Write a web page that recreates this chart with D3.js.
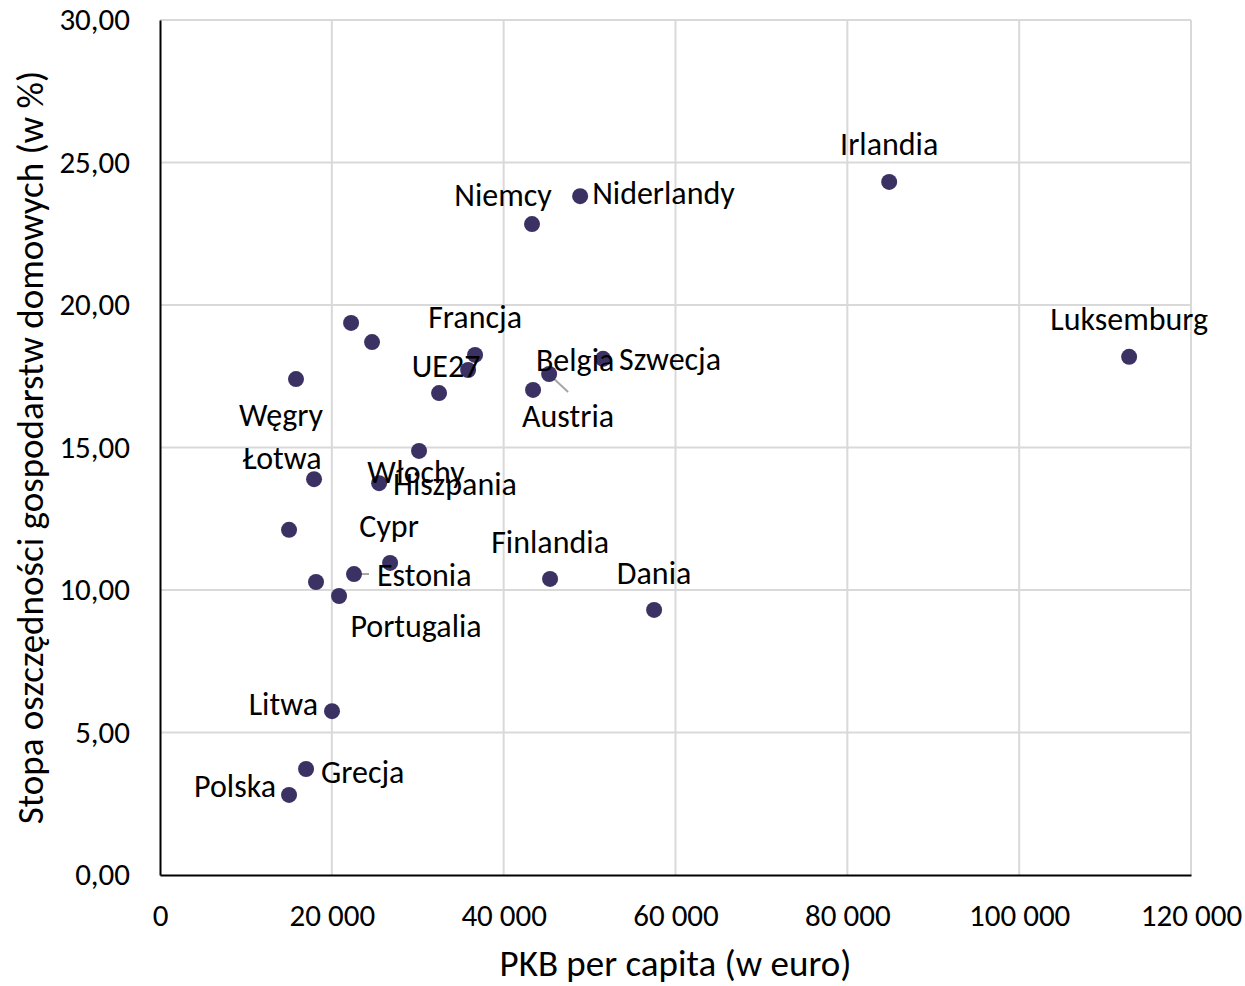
<!DOCTYPE html>
<html>
<head>
<meta charset="utf-8">
<script src="https://cdn.jsdelivr.net/npm/d3@7"></script>
<style>
  html, body { margin: 0; padding: 0; background: #fff; }
  svg text { font-family: Carlito, Calibri, Lato, sans-serif; fill: #000; }
</style>
</head>
<body>
<svg id="chart" width="1245" height="986"></svg>
<script>
// ---- data ----
const countries = ["Irlandia","Luksemburg","Niderlandy","Niemcy","Szwecja","Belgia","Austria","Francja","UE27","","","","Węgry","Włochy","Hiszpania","Łotwa","","Cypr","Estonia","","Portugalia","Finlandia","Dania","Litwa","Grecja","Polska"];
const gdpPerCapita = [84870,112800,48900,43300,51570,45290,43420,36670,35860,32480,22240,24680,15830,30150,25500,17930,15020,26780,22580,18160,20840,45400,57510,20020,17000,15020];
const savingRate = [24.32,18.18,23.82,22.84,18.11,17.58,17.02,18.25,17.72,16.91,19.37,18.70,17.40,14.88,13.75,13.89,12.11,10.95,10.56,10.28,9.79,10.39,9.30,5.75,3.72,2.81];
const xTicks = [0,20000,40000,60000,80000,100000,120000];
const yTicks = [0,5,10,15,20,25,30];
const xTitle = "PKB per capita (w euro)";
const yTitle = "Stopa oszczędności gospodarstw domowych (w %)";

// ---- label layout (offsets from point, px) ----
const labelOffsets = [
  [0,-37,"middle"],[0,-37,"middle"],[12,-3,"start"],[-29,-29,"middle"],[16,1,"start"],
  [26,-13,"middle"],[35,27,"middle"],[0,-37,"middle"],[-22,-3,"middle"],null,null,null,
  [-15,36,"middle"],[-3,22,"middle"],[14,1,"start"],[-32,-21,"middle"],null,[-1,-36,"middle"],
  [23,1,"start"],null,[77,31,"middle"],[0,-36,"middle"],[0,-36,"middle"],[-14,-7,"end"],
  [15,4,"start"],[-13,-8,"end"]
];
const leaders = { "Belgia": [[4,4],[19,18]], "Estonia": [[2,0],[15,0]] };

// ---- chart ----
const svg = d3.select("#chart");
const mLeft = 160, mRight = 1191, mTop = 20, mBottom = 875;
const fontFam = "Carlito, Calibri, Lato, sans-serif";
const x = d3.scaleLinear().domain([0,120000]).range([mLeft,mRight]);
const y = d3.scaleLinear().domain([0,30]).range([mBottom,mTop]);
const loc = d3.formatLocale({decimal: ",", thousands: "\u2009", grouping: [3], currency: ["",""]});
const fx = v => loc.format(",.0f")(v).replace(/\u2009/g, " ");
const fy = loc.format(".2f");

// gridlines
svg.append("g").selectAll("line").data(yTicks.filter(d => d > 0)).join("line")
  .attr("x1", mLeft).attr("x2", mRight).attr("y1", d => y(d)).attr("y2", d => y(d))
  .attr("stroke", "#d9d9d9").attr("stroke-width", 2);
svg.append("g").selectAll("line").data(xTicks.filter(d => d > 0)).join("line")
  .attr("y1", mTop).attr("y2", mBottom).attr("x1", d => x(d)).attr("x2", d => x(d))
  .attr("stroke", "#d9d9d9").attr("stroke-width", 2);

// axes
const xAxis = d3.axisBottom(x).tickValues(xTicks).tickFormat(fx).tickSize(0).tickPadding(29);
const gx = svg.append("g").attr("transform", `translate(0,${mBottom})`).call(xAxis);
gx.select(".domain").attr("stroke", "#000").attr("stroke-width", 2);
gx.selectAll("text").attr("font-size", 31).attr("font-family", fontFam).attr("fill", "#000");

const yAxis = d3.axisLeft(y).tickValues(yTicks).tickFormat(fy).tickSize(0).tickPadding(30);
const gy = svg.append("g").attr("transform", `translate(${mLeft},0)`).call(yAxis);
gy.select(".domain").attr("stroke", "#000").attr("stroke-width", 2);
gy.selectAll("text").attr("font-size", 31).attr("font-family", fontFam).attr("fill", "#000");

// titles
svg.append("text").attr("x", (mLeft+mRight)/2).attr("y", 963).attr("text-anchor", "middle")
  .attr("dominant-baseline", "central").attr("font-size", 37).text(xTitle);
svg.append("text").attr("transform", `translate(30,${(mTop+mBottom)/2}) rotate(-90)`)
  .attr("text-anchor", "middle").attr("dominant-baseline", "central").attr("font-size", 37).text(yTitle);

// leader lines
countries.forEach((c, i) => {
  if (leaders[c]) {
    const px = x(gdpPerCapita[i]), py = y(savingRate[i]);
    const [a, b] = leaders[c];
    svg.append("line").attr("x1", px + a[0]).attr("y1", py + a[1]).attr("x2", px + b[0]).attr("y2", py + b[1])
      .attr("stroke", "#a6a6a6").attr("stroke-width", 2);
  }
});

// points
const idx = d3.range(countries.length);
svg.append("g").selectAll("circle").data(idx).join("circle")
  .attr("cx", i => x(gdpPerCapita[i])).attr("cy", i => y(savingRate[i])).attr("r", 8)
  .attr("fill", "#3b3163");

// labels
svg.append("g").selectAll("text").data(idx.filter(i => countries[i] && labelOffsets[i])).join("text")
  .attr("x", i => x(gdpPerCapita[i]) + labelOffsets[i][0])
  .attr("y", i => y(savingRate[i]) + labelOffsets[i][1])
  .attr("text-anchor", i => labelOffsets[i][2])
  .attr("dominant-baseline", "central")
  .attr("font-size", 32)
  .text(i => countries[i]);
</script>
</body>
</html>
